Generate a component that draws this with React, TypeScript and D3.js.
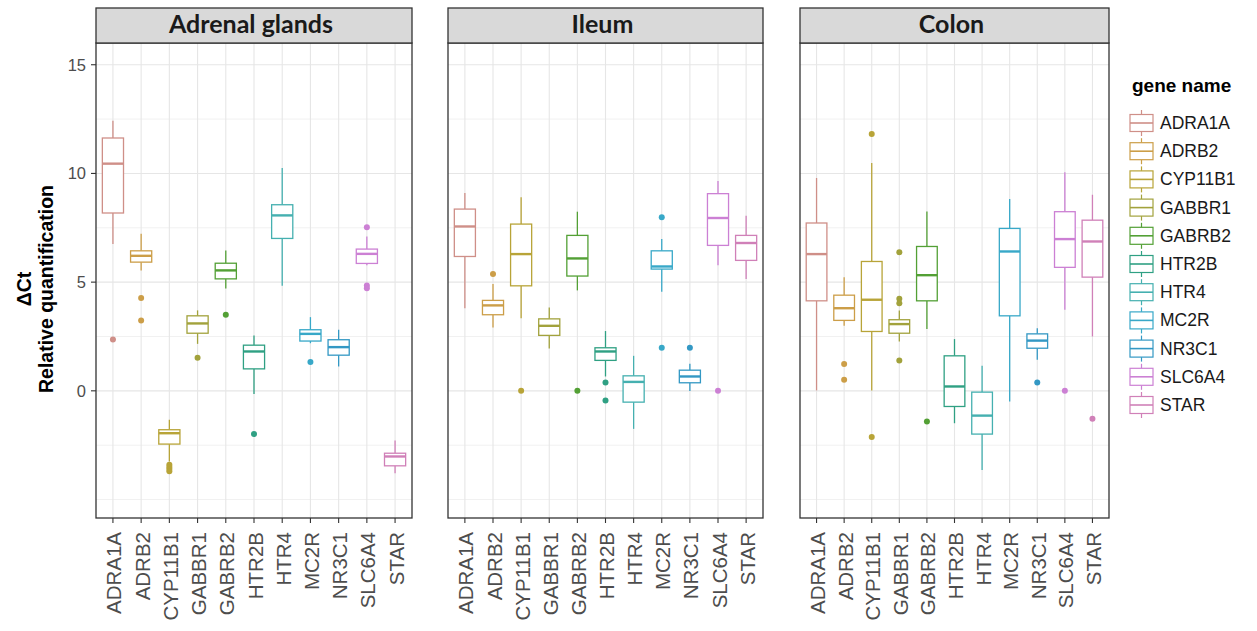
import React from "react";
import * as d3 from "d3";

// Genes (x categories and legend entries)
const genes = [
  "ADRA1A", "ADRB2", "CYP11B1", "GABBR1", "GABRB2",
  "HTR2B", "HTR4", "MC2R", "NR3C1", "SLC6A4", "STAR",
];

const geneColors = [
  "#CF8F88", "#CC9E48", "#B8A438", "#A2A23C", "#53A035",
  "#2FA083", "#45B0B0", "#38A8C8", "#3398C4", "#CC80D4", "#D080B8",
];

const tissues = ["Adrenal glands", "Ileum", "Colon"];

// Box statistics per gene: [lower whisker, Q1, median, Q3, upper whisker]
const adrenalStats = [
  [6.75, 8.18, 10.45, 11.63, 12.42],
  [5.54, 5.92, 6.21, 6.44, 7.22],
  [-3.25, -2.45, -1.95, -1.79, -1.33],
  [2.16, 2.65, 3.10, 3.45, 3.70],
  [4.71, 5.15, 5.54, 5.87, 6.46],
  [-0.15, 1.01, 1.81, 2.10, 2.55],
  [4.83, 7.01, 8.07, 8.56, 10.25],
  [2.19, 2.29, 2.62, 2.81, 3.39],
  [1.12, 1.64, 2.01, 2.35, 2.81],
  [5.78, 5.86, 6.30, 6.52, 7.10],
  [-3.79, -3.45, -3.02, -2.87, -2.28],
];
const adrenalOutliers = [
  [2.36],
  [4.27, 3.24],
  [-3.4, -3.5, -3.6, -3.7],
  [1.52],
  [3.5],
  [-1.99],
  [],
  [1.33],
  [],
  [7.53, 4.85, 4.72],
  [],
];

const ileumStats = [
  [3.80, 6.18, 7.56, 8.36, 9.10],
  [2.91, 3.50, 3.93, 4.16, 4.91],
  [3.34, 4.83, 6.29, 7.67, 8.90],
  [1.95, 2.55, 2.99, 3.31, 3.83],
  [4.62, 5.28, 6.09, 7.15, 8.24],
  [0.66, 1.40, 1.81, 1.98, 2.75],
  [-1.75, -0.52, 0.41, 0.69, 1.61],
  [4.56, 5.60, 5.72, 6.44, 6.98],
  [-0.01, 0.37, 0.66, 0.95, 1.24],
  [5.78, 6.69, 7.95, 9.07, 9.65],
  [5.14, 6.00, 6.80, 7.15, 8.05],
];
const ileumOutliers = [
  [],
  [5.37],
  [0],
  [],
  [0],
  [0.38, -0.45],
  [],
  [7.98, 1.98],
  [1.98],
  [0],
  [],
];

const colonStats = [
  [0.02, 4.14, 6.29, 7.72, 9.79],
  [2.99, 3.24, 3.80, 4.40, 5.23],
  [0.02, 2.73, 4.19, 5.95, 10.48],
  [2.27, 2.65, 3.07, 3.27, 3.70],
  [2.84, 4.14, 5.32, 6.64, 8.25],
  [-1.49, -0.72, 0.20, 1.61, 2.38],
  [-3.64, -1.99, -1.14, -0.06, 1.15],
  [-0.49, 3.45, 6.41, 7.47, 8.82],
  [1.43, 1.96, 2.31, 2.62, 2.88],
  [3.73, 5.68, 6.98, 8.24, 10.05],
  [2.50, 5.23, 6.87, 7.85, 9.02],
];
const colonOutliers = [
  [],
  [1.23, 0.51],
  [11.81, -2.12],
  [6.38, 4.23, 4.03, 1.40],
  [-1.41],
  [],
  [],
  [],
  [0.38],
  [0],
  [-1.29],
];

const yMajorTicks = [0, 5, 10, 15];
const yMinorTicks = [-5, -2.5, 2.5, 7.5, 12.5];

const panelStats = [adrenalStats, ileumStats, colonStats];
const panelOutliers = [adrenalOutliers, ileumOutliers, colonOutliers];

// Layout
const W = 1257;
const H = 631;
const panelTop = 43;
const panelBottom = 518;
const stripTop = 8;
const panelRanges: [number, number][] = [
  [96, 412],
  [448, 763],
  [800, 1109],
];
const sans = "'Liberation Sans', Arial, sans-serif";

export default function App() {
  const y = d3.scaleLinear().domain([-5.85, 16.0]).range([panelBottom, panelTop]);

  const legendX = 1130;
  const legendY0 = 123;
  const legendStep = 28.2;

  return (
    <svg
      width={W}
      height={H}
      style={{ position: "absolute", left: 0, top: 0, background: "#fff" }}
      fontFamily={sans}
    >
      <rect x={0} y={0} width={W} height={H} fill="#fff" />

      {tissues.map((tissue, p) => {
        const [x0, x1] = panelRanges[p];
        const x = d3.scalePoint<string>().domain(genes).range([x0, x1]).padding(0.6);
        const bw = x.step() * 0.75;
        const stats = panelStats[p];
        const outs = panelOutliers[p];
        return (
          <g key={tissue}>
            {/* grid */}
            {yMinorTicks.map((t) => (
              <line key={"mi" + t} x1={x0} x2={x1} y1={y(t)} y2={y(t)} stroke="#F1F1F1" strokeWidth={1} />
            ))}
            {yMajorTicks.map((t) => (
              <line key={"ma" + t} x1={x0} x2={x1} y1={y(t)} y2={y(t)} stroke="#E6E6E6" strokeWidth={1.1} />
            ))}
            {genes.map((g) => (
              <line key={"v" + g} x1={x(g)} x2={x(g)} y1={panelTop} y2={panelBottom} stroke="#E6E6E6" strokeWidth={1.1} />
            ))}

            {/* boxes */}
            {genes.map((g, i) => {
              const [lo, q1, med, q3, hi] = stats[i];
              const cx = x(g) as number;
              const c = geneColors[i];
              return (
                <g key={"b" + g}>
                  <line x1={cx} x2={cx} y1={y(hi)} y2={y(q3)} stroke={c} strokeWidth={1.3} />
                  <line x1={cx} x2={cx} y1={y(q1)} y2={y(lo)} stroke={c} strokeWidth={1.3} />
                  <rect
                    x={cx - bw / 2}
                    y={y(q3)}
                    width={bw}
                    height={Math.max(0.5, y(q1) - y(q3))}
                    fill="#fff"
                    stroke={c}
                    strokeWidth={1.3}
                  />
                  <line x1={cx - bw / 2} x2={cx + bw / 2} y1={y(med)} y2={y(med)} stroke={c} strokeWidth={2.4} />
                  {outs[i].map((v, k) => (
                    <circle key={k} cx={cx} cy={y(v)} r={3} fill={c} />
                  ))}
                </g>
              );
            })}

            {/* panel border */}
            <rect x={x0} y={panelTop} width={x1 - x0} height={panelBottom - panelTop} fill="none" stroke="#333" strokeWidth={1.3} />

            {/* strip */}
            <rect x={x0} y={stripTop} width={x1 - x0} height={panelTop - stripTop} fill="#D9D9D9" stroke="#333" strokeWidth={1.3} />
            <text
              x={(x0 + x1) / 2 - 3}
              y={33}
              textAnchor="middle"
              fontFamily="Lato, 'Open Sans', sans-serif"
              fontWeight="bold"
              fontSize={25}
              fill="#1a1a1a"
            >
              {tissue}
            </text>

            {/* x axis */}
            {genes.map((g) => (
              <g key={"xt" + g}>
                <line x1={x(g)} x2={x(g)} y1={panelBottom} y2={panelBottom + 5} stroke="#333" strokeWidth={1.1} />
                <text
                  transform={`translate(${(x(g) as number) + 1},${panelBottom + 14}) rotate(-90)`}
                  textAnchor="end"
                  dominantBaseline="central"
                  fontSize={20.5}
                  fill="#4D4D4D"
                >
                  {g}
                </text>
              </g>
            ))}
          </g>
        );
      })}

      {/* y axis */}
      {yMajorTicks.map((t) => (
        <g key={"yt" + t}>
          <line x1={91} x2={96} y1={y(t)} y2={y(t)} stroke="#333" strokeWidth={1.1} />
          <text x={86} y={y(t)} textAnchor="end" dominantBaseline="central" fontSize={16.5} fill="#4D4D4D">
            {t}
          </text>
        </g>
      ))}
      <g transform="translate(0,289) rotate(-90)">
        <text x={0} y={31} textAnchor="middle" fontWeight="bold" fontSize={19.5} fill="#000">
          ΔCt
        </text>
        <text x={0} y={53} textAnchor="middle" fontWeight="bold" fontSize={19.5} fill="#000">
          Relative quantification
        </text>
      </g>

      {/* legend */}
      <text x={1132} y={92} fontWeight="bold" fontSize={19} fill="#000">
        gene name
      </text>
      {genes.map((g, i) => {
        const cy = legendY0 + i * legendStep;
        const c = geneColors[i];
        const kx = legendX + 11.5;
        return (
          <g key={"lg" + g}>
            <line x1={kx} x2={kx} y1={cy - 13} y2={cy - 8.5} stroke={c} strokeWidth={1.2} />
            <line x1={kx} x2={kx} y1={cy + 8.5} y2={cy + 13} stroke={c} strokeWidth={1.2} />
            <rect x={legendX} y={cy - 8.5} width={23} height={17} fill="#fff" stroke={c} strokeWidth={1.2} />
            <line x1={legendX} x2={legendX + 23} y1={cy} y2={cy} stroke={c} strokeWidth={1.6} />
            <text x={1160} y={cy} dominantBaseline="central" fontSize={17.5} fill="#1a1a1a">
              {g}
            </text>
          </g>
        );
      })}
    </svg>
  );
}
